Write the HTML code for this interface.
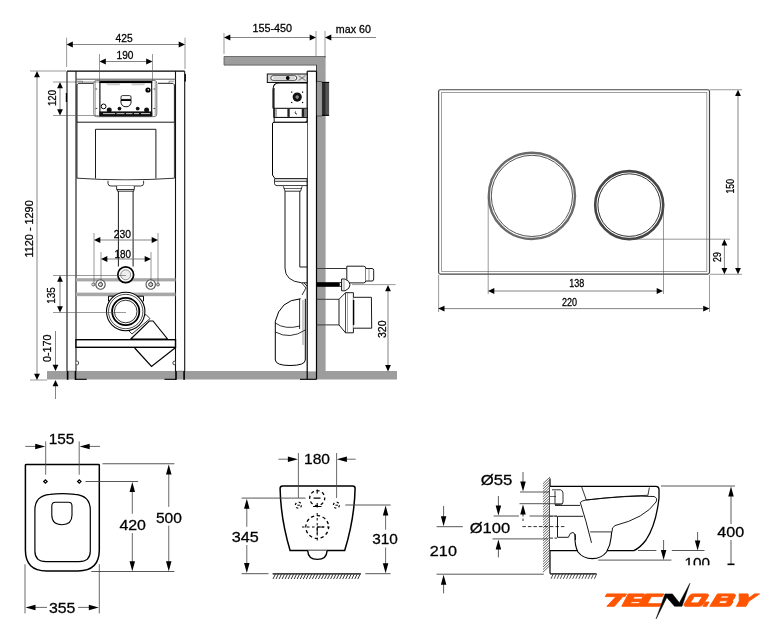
<!DOCTYPE html>
<html><head><meta charset="utf-8"><style>
html,body{margin:0;padding:0;background:#fff;width:770px;height:640px;overflow:hidden}
svg{display:block;will-change:transform}
text{font-family:"Liberation Sans",sans-serif;fill:#000;stroke:#000;stroke-width:0.28px}
</style></head><body>
<svg width="770" height="640" viewBox="0 0 770 640">
<rect x="47" y="371" width="350" height="8.5" fill="#9d9d9d"/>
<rect x="67" y="71.2" width="9" height="299.8" fill="#fff"/>
<rect x="175.5" y="71.2" width="9.2" height="299.8" fill="#fff"/>
<line x1="67" y1="71.2" x2="67" y2="371" stroke="#111" stroke-width="1.1" />
<line x1="76" y1="71.2" x2="76" y2="371" stroke="#111" stroke-width="1.1" />
<line x1="175.5" y1="71.2" x2="175.5" y2="371" stroke="#111" stroke-width="1.1" />
<line x1="184.7" y1="71.2" x2="184.7" y2="371" stroke="#111" stroke-width="1.1" />
<rect x="66.8" y="371" width="1.6" height="8.8" fill="#000"/>
<rect x="74.7" y="371" width="1.6" height="8.8" fill="#000"/>
<rect x="175.2" y="371" width="1.6" height="8.8" fill="#000"/>
<rect x="183.29999999999998" y="371" width="1.6" height="8.8" fill="#000"/>
<line x1="68" y1="371.2" x2="75" y2="371.2" stroke="#666" stroke-width="0.6" />
<line x1="176.5" y1="371.2" x2="183.5" y2="371.2" stroke="#666" stroke-width="0.6" />
<path d="M76.3,361.2 H77.5 Q78.6,361.2 78.6,363 Q78.6,364.7 77.5,364.7 H76.3" fill="#fff" stroke="#000" stroke-width="0.7"/>
<path d="M175.2,361.2 H174 Q172.9,361.2 172.9,363 Q172.9,364.7 174,364.7 H175.2" fill="#fff" stroke="#000" stroke-width="0.7"/>
<line x1="67" y1="71.1" x2="184.7" y2="71.1" stroke="#000" stroke-width="1.2" />
<line x1="76" y1="79.2" x2="175.5" y2="79.2" stroke="#555" stroke-width="1" />
<rect x="65.8" y="93" width="1.3" height="9" fill="#000"/>
<rect x="184.7" y="74" width="1.2" height="7.5" fill="#000"/>
<line x1="75" y1="379.3" x2="86.7" y2="379.3" stroke="#000" stroke-width="1.1" />
<line x1="164.5" y1="379.3" x2="176" y2="379.3" stroke="#000" stroke-width="1.1" />
<path d="M93.8,83.3 H78.5 L77,84.8 V122.2" fill="none" stroke="#000" stroke-width="0.9"/>
<path d="M158,83.3 H172.9 L174.4,84.8 V122.2" fill="none" stroke="#000" stroke-width="0.9"/>
<path d="M77,81.2 H82.5 V83.3 M174.4,81.2 H169 V83.3" fill="none" stroke="#555" stroke-width="0.6"/>
<rect x="93.8" y="80.4" width="63" height="36.3" rx="2.8" fill="#fff" stroke="#777" stroke-width="1"/>
<rect x="94.6" y="81" width="1.4" height="35" fill="#bbb"/>
<rect x="154.6" y="81" width="1.4" height="35" fill="#bbb"/>
<rect x="99.9" y="81.9" width="51.8" height="33.8" fill="#fff" stroke="#000" stroke-width="1.1"/>
<rect x="99.4" y="81.1" width="52.8" height="2" fill="#000"/>
<rect x="99.4" y="111.4" width="52.8" height="4.9" fill="#111"/>
<path d="M103,113.6 H115 M116.5,113.6 H124.5 M126,113.6 H132.5 M134,113.6 H139 M141,113.6 H150" stroke="#ddd" stroke-width="0.9"/>
<path d="M105.5,83.1 L107.5,85.3 H119.5 L120.5,83.1 Z M131,83.1 L132,85.3 H144 L145.5,83.1 Z" fill="#ccc"/>
<path d="M97.2,89 H95.5 M97.2,108.5 H95.5 M155.2,89 H153.5 M155.2,108.5 H153.5" stroke="#000" stroke-width="0.7"/>
<circle cx="148" cy="90" r="2.6" fill="#000"/><circle cx="148.3" cy="89.8" r="0.8" fill="#fff"/>
<path d="M121,99.4 V97 Q121,95.6 122.5,95.6 H129.6 Q131,95.6 131,97 V99.4 Z" fill="#fff" stroke="#000" stroke-width="0.8"/>
<rect x="120.6" y="99.4" width="10.8" height="1.6" fill="#000"/>
<path d="M120.8,101 Q121,106.8 126,106.8 Q131,106.8 131.2,101" fill="#fff" stroke="#000" stroke-width="0.9"/>
<circle cx="103.6" cy="106.4" r="2.4" fill="#fff" stroke="#000" stroke-width="1"/>
<circle cx="109.2" cy="110" r="2.5" fill="#111"/><circle cx="146.6" cy="110" r="2.5" fill="#111"/>
<circle cx="119.5" cy="108.6" r="1.9" fill="#111"/><circle cx="137.7" cy="108.6" r="1.9" fill="#111"/>
<line x1="77" y1="122.2" x2="174.4" y2="122.2" stroke="#000" stroke-width="0.9" />
<path d="M77,122.2 V178.2 Q126,181.5 174.4,178.2 V122.2" fill="none" stroke="#000" stroke-width="0.8"/>
<path d="M95.5,178.5 V129.3 H155.9 V178.5" fill="none" stroke="#000" stroke-width="0.9"/>
<path d="M108,180.8 V183.5 Q108,186 111,186 H140.6 Q143.6,186 143.6,183.5 V180.8" fill="#fff" stroke="#000" stroke-width="0.8"/>
<path d="M116.6,186 V189.5 H134.3 V186 M117.4,189.5 V191.2 H133.8 V189.5" fill="#fff" stroke="#000" stroke-width="0.8"/>
<path d="M118.4,191.2 V266.5 M133.1,191.2 V266.5" stroke="#000" stroke-width="0.9"/>
<rect x="76" y="278.2" width="99.5" height="3.2" fill="#a8a8a8"/>
<rect x="76" y="292.6" width="99.5" height="3.6" fill="#a8a8a8"/>
<circle cx="125.7" cy="274.8" r="7.9" fill="#fff" stroke="#000" stroke-width="1.7"/>
<circle cx="125.7" cy="274.8" r="5" fill="#eee" stroke="#777" stroke-width="0.8"/>
<circle cx="93.3" cy="284.5" r="1.5" fill="#fff" stroke="#333" stroke-width="0.7"/>
<circle cx="100.5" cy="284.5" r="4.7" fill="#fff" stroke="#555" stroke-width="1.1"/>
<circle cx="100.5" cy="284.5" r="2" fill="none" stroke="#000" stroke-width="0.8"/>
<circle cx="158" cy="284.5" r="1.5" fill="#fff" stroke="#333" stroke-width="0.7"/>
<circle cx="150.7" cy="284.5" r="4.7" fill="#fff" stroke="#555" stroke-width="1.1"/>
<circle cx="150.7" cy="284.5" r="2" fill="none" stroke="#000" stroke-width="0.8"/>
<path d="M128,330 L146,314.5 L150,318.6 L132,334 Z" fill="#fff" stroke="#000" stroke-width="0.8"/>
<path d="M130.8,339 L149.3,321 H153 L167.5,339 Z" fill="#fff" stroke="#000" stroke-width="1.1"/>
<path d="M108.5,301.3 V296.2 H143.5 V301.3" fill="#fff" stroke="#000" stroke-width="1"/>
<circle cx="125.7" cy="311.5" r="19.2" fill="#fff" stroke="#000" stroke-width="1.1"/>
<circle cx="125.7" cy="311.5" r="17.2" fill="none" stroke="#000" stroke-width="0.7"/>
<circle cx="125.7" cy="311.5" r="13.6" fill="none" stroke="#000" stroke-width="1.8"/>
<circle cx="125.7" cy="311.5" r="11.3" fill="#fff" stroke="#000" stroke-width="0.8"/>
<rect x="76" y="339.7" width="99.5" height="7.6" fill="#fff" stroke="#000" stroke-width="1.4"/>
<path d="M134.7,348 L151.5,366.4 L175,348" fill="#fff" stroke="#000" stroke-width="1.2"/>
<line x1="66.6" y1="37.7" x2="66.6" y2="67" stroke="#555" stroke-width="0.6" />
<line x1="185" y1="37.7" x2="185" y2="69" stroke="#555" stroke-width="0.6" />
<line x1="72" y1="44.5" x2="179" y2="44.5" stroke="#666" stroke-width="0.8" />
<polygon points="66.50,44.50 72.80,41.60 72.80,47.40" fill="#000"/>
<polygon points="185.00,44.50 178.70,41.60 178.70,47.40" fill="#000"/>
<text x="124.2" y="41.75" font-size="11.3" text-anchor="middle" textLength="17.2" lengthAdjust="spacingAndGlyphs" >425</text>
<line x1="99.5" y1="54" x2="99.5" y2="81" stroke="#555" stroke-width="0.6" />
<line x1="152.5" y1="54" x2="152.5" y2="81" stroke="#555" stroke-width="0.6" />
<line x1="105" y1="61.5" x2="147" y2="61.5" stroke="#666" stroke-width="0.8" />
<polygon points="99.50,61.50 105.80,58.60 105.80,64.40" fill="#000"/>
<polygon points="152.50,61.50 146.20,58.60 146.20,64.40" fill="#000"/>
<text x="125" y="59.25" font-size="11.3" text-anchor="middle" textLength="16.9" lengthAdjust="spacingAndGlyphs" >190</text>
<line x1="30" y1="71" x2="66" y2="71" stroke="#555" stroke-width="0.6" />
<line x1="30" y1="380" x2="47" y2="380" stroke="#555" stroke-width="0.6" />
<line x1="37" y1="77" x2="37" y2="374" stroke="#666" stroke-width="0.8" />
<polygon points="37.00,71.00 34.10,77.30 39.90,77.30" fill="#000"/>
<polygon points="37.00,380.00 34.10,373.70 39.90,373.70" fill="#000"/>
<text x="33.4" y="228.9" font-size="11.3" text-anchor="middle" transform="rotate(-90 33.4 228.9)" textLength="57.2" lengthAdjust="spacingAndGlyphs" >1120 - 1290</text>
<line x1="53" y1="82" x2="99" y2="82" stroke="#555" stroke-width="0.6" />
<line x1="53" y1="115.5" x2="99" y2="115.5" stroke="#555" stroke-width="0.6" />
<line x1="60" y1="88" x2="60" y2="110" stroke="#666" stroke-width="0.8" />
<polygon points="60.00,82.00 57.10,88.30 62.90,88.30" fill="#000"/>
<polygon points="60.00,115.50 57.10,109.20 62.90,109.20" fill="#000"/>
<text x="55.75" y="98" font-size="11.3" text-anchor="middle" transform="rotate(-90 55.75 98)" textLength="16.1" lengthAdjust="spacingAndGlyphs" >120</text>
<line x1="94" y1="233" x2="94" y2="286" stroke="#555" stroke-width="0.6" />
<line x1="158" y1="233" x2="158" y2="286" stroke="#555" stroke-width="0.6" />
<line x1="100" y1="240" x2="152" y2="240" stroke="#666" stroke-width="0.8" />
<polygon points="94.00,240.00 100.30,237.10 100.30,242.90" fill="#000"/>
<polygon points="158.00,240.00 151.70,237.10 151.70,242.90" fill="#000"/>
<text x="122.3" y="237.8" font-size="11.3" text-anchor="middle" textLength="17.2" lengthAdjust="spacingAndGlyphs" >230</text>
<line x1="101" y1="252" x2="101" y2="286" stroke="#555" stroke-width="0.6" />
<line x1="151" y1="252" x2="151" y2="286" stroke="#555" stroke-width="0.6" />
<line x1="107" y1="259" x2="145" y2="259" stroke="#666" stroke-width="0.8" />
<polygon points="101.00,259.00 107.30,256.10 107.30,261.90" fill="#000"/>
<polygon points="151.00,259.00 144.70,256.10 144.70,261.90" fill="#000"/>
<text x="122.65" y="257.5" font-size="11.3" text-anchor="middle" textLength="16.5" lengthAdjust="spacingAndGlyphs" >180</text>
<line x1="53" y1="275.5" x2="126" y2="275.5" stroke="#555" stroke-width="0.6" />
<line x1="53" y1="312.5" x2="126" y2="312.5" stroke="#555" stroke-width="0.6" />
<line x1="60" y1="281" x2="60" y2="307" stroke="#666" stroke-width="0.8" />
<polygon points="60.00,275.50 57.10,281.80 62.90,281.80" fill="#000"/>
<polygon points="60.00,312.50 57.10,306.20 62.90,306.20" fill="#000"/>
<text x="55" y="295.5" font-size="11.3" text-anchor="middle" transform="rotate(-90 55 295.5)" textLength="16.5" lengthAdjust="spacingAndGlyphs" >135</text>
<line x1="55.5" y1="331" x2="55.5" y2="366" stroke="#666" stroke-width="0.8" />
<polygon points="55.50,371.00 52.60,364.70 58.40,364.70" fill="#000"/>
<line x1="55.5" y1="385" x2="55.5" y2="399" stroke="#666" stroke-width="0.8" />
<polygon points="55.50,380.00 52.60,386.30 58.40,386.30" fill="#000"/>
<text x="51" y="348.3" font-size="11.3" text-anchor="middle" transform="rotate(-90 51 348.3)" textLength="27.4" lengthAdjust="spacingAndGlyphs" >0-170</text>
<rect x="224" y="56.5" width="101.6" height="8.6" fill="#9d9d9d"/>
<path d="M325.6,56.5 H224 V65.1 H316.5" fill="none" stroke="#555" stroke-width="0.8"/>
<rect x="316.6" y="64.5" width="9" height="307" fill="#9d9d9d"/>
<line x1="316.5" y1="64.8" x2="316.5" y2="371.4" stroke="#333" stroke-width="0.9" />
<rect x="307.2" y="71.2" width="9.4" height="300.2" fill="#fff"/>
<line x1="307.2" y1="71.2" x2="307.2" y2="379.3" stroke="#000" stroke-width="1.2" />
<line x1="316.5" y1="71.2" x2="316.5" y2="379.3" stroke="#000" stroke-width="1.2" />
<line x1="307.2" y1="71.2" x2="316.5" y2="71.2" stroke="#000" stroke-width="1.2" />
<line x1="300" y1="379.3" x2="316.5" y2="379.3" stroke="#000" stroke-width="1.1" />
<line x1="316.6" y1="268.5" x2="325.6" y2="268.5" stroke="#333" stroke-width="0.9" />
<line x1="316.6" y1="299.3" x2="325.6" y2="299.3" stroke="#333" stroke-width="0.9" />
<line x1="316.6" y1="324.9" x2="325.6" y2="324.9" stroke="#333" stroke-width="0.9" />
<rect x="267.3" y="74" width="39.9" height="8.5" fill="#ddd" stroke="#111" stroke-width="1"/>
<rect x="270.8" y="75.7" width="25.9" height="4.6" rx="2.3" fill="#fff" stroke="#222" stroke-width="0.8"/>
<path d="M273,78 H286 M290,78 H295" stroke="#999" stroke-width="0.8"/>
<circle cx="287.8" cy="78" r="1.9" fill="#000"/>
<path d="M298.5,75.5 L305.5,80.5 M298.5,80.5 L305.5,75.5" stroke="#444" stroke-width="0.7"/>
<path d="M307.2,83 H279 Q273,83 273,89.5 V108.5" fill="none" stroke="#000" stroke-width="1.1"/>
<circle cx="297.2" cy="97.1" r="4.6" fill="#111"/><circle cx="297.2" cy="97.1" r="1.8" fill="#888"/>
<rect x="291.09999999999997" y="91.5" width="1.2" height="1.2" fill="#000"/>
<rect x="291.09999999999997" y="101.9" width="1.2" height="1.2" fill="#000"/>
<rect x="302.0" y="91.5" width="1.2" height="1.2" fill="#000"/>
<rect x="302.0" y="101.9" width="1.2" height="1.2" fill="#000"/>
<rect x="274.2" y="108.3" width="33" height="9.1" fill="#fff" stroke="#000" stroke-width="1"/>
<rect x="274.7" y="108.8" width="2.3" height="8.1" fill="#aaa"/>
<rect x="287.4" y="108.8" width="2.3" height="8.1" fill="#222"/><rect x="301.7" y="108.8" width="2.9" height="8.1" fill="#222"/><rect x="304.6" y="108.8" width="2.4" height="8.1" fill="#777"/>
<path d="M295.5,111.5 Q294.5,113 296,114 H297" fill="none" stroke="#000" stroke-width="0.8"/>
<path d="M274.2,117.4 V122.3 H307.2 M305.5,122.3 L307.2,120.5" fill="none" stroke="#000" stroke-width="0.9"/>
<line x1="273.9" y1="88" x2="273.9" y2="117.4" stroke="#000" stroke-width="1.2" />
<rect x="316.8" y="82.1" width="5.1" height="33.5" fill="#999"/>
<rect x="321.9" y="82.1" width="7.2" height="33.5" fill="#555"/>
<rect x="322.2" y="82.1" width="3.2" height="33.5" fill="#2a2a2a"/>
<line x1="321.9" y1="82.4" x2="329.1" y2="82.4" stroke="#000" stroke-width="1.1" />
<line x1="321.9" y1="115.3" x2="329.1" y2="115.3" stroke="#000" stroke-width="1.1" />
<line x1="316.8" y1="81.5" x2="321.9" y2="81.5" stroke="#444" stroke-width="0.8" />
<line x1="316.8" y1="116" x2="321.9" y2="116" stroke="#444" stroke-width="0.8" />
<path d="M307.2,122.3 H274 Q272.5,122.3 272.5,124 V175 L275,178.7 H307.2" fill="#fff" stroke="#000" stroke-width="1"/>
<path d="M274.5,178.7 V183.5 Q274.5,185.6 277,185.6 H307.2 M275,181.3 H307.2" fill="none" stroke="#000" stroke-width="0.8"/>
<path d="M283.4,186.3 L285,191.2 H300.6 L302.1,186.3" fill="#fff" stroke="#000" stroke-width="0.8"/>
<line x1="283.8" y1="188.5" x2="301.7" y2="188.5" stroke="#000" stroke-width="0.6" />
<path d="M285,191.2 V268 Q285,281 301.5,282.8 H307.2" fill="none" stroke="#000" stroke-width="0.9"/>
<path d="M299.8,191.2 V267 H307.2" fill="none" stroke="#000" stroke-width="0.9"/>
<path d="M301.5,282.8 L306,288 L302,295 M304,283 L307,286" fill="none" stroke="#000" stroke-width="0.8"/>
<path d="M300.6,298.8 Q280,300 275.3,321.3 V360 Q276,365.5 290,365.5 Q305,365.5 305.3,360 V298.8" fill="#fff" stroke="#000" stroke-width="1"/>
<path d="M275.3,323 Q285,330 300,326 M275.3,332 Q290,340 305.3,330" fill="none" stroke="#000" stroke-width="0.8"/>
<line x1="299.6" y1="298.8" x2="299.6" y2="329" stroke="#000" stroke-width="0.8" />
<line x1="303" y1="300" x2="303" y2="345" stroke="#555" stroke-width="0.6" />
<line x1="325.6" y1="268.5" x2="346.8" y2="268.5" stroke="#000" stroke-width="0.8" />
<path d="M346.8,266.2 H363.5 Q365.8,266.2 365.8,268.5 V280.6 Q365.8,282.9 363.5,282.9 H346.8 Z" fill="#fff" stroke="#000" stroke-width="0.9"/>
<path d="M365.8,268.5 H372 Q373.7,268.5 373.7,270.5 V279 Q373.7,281 372,281 H365.8" fill="#fff" stroke="#000" stroke-width="0.9"/>
<line x1="369" y1="268.5" x2="369" y2="281" stroke="#555" stroke-width="0.6" />
<rect x="316.6" y="282.2" width="23" height="4.6" fill="#000"/>
<path d="M339.6,282.5 H341.6 V286.5 H339.6 Z" fill="#fff" stroke="#000" stroke-width="0.7"/>
<path d="M341.6,279 H345 Q350,281 350,284.8 Q350,288.8 345,290.8 H341.6 Z" fill="#fff" stroke="#000" stroke-width="0.9"/>
<line x1="344" y1="279.5" x2="344" y2="290.3" stroke="#555" stroke-width="0.6" />
<line x1="325.6" y1="299.3" x2="339" y2="299.3" stroke="#000" stroke-width="0.8" />
<line x1="325.6" y1="324.9" x2="339" y2="324.9" stroke="#000" stroke-width="0.8" />
<path d="M339,299.3 L345.5,292.7 H353.4 V332.8 H345.5 L339,324.9 Z" fill="#fff" stroke="#000" stroke-width="0.9"/>
<line x1="345.5" y1="292.7" x2="345.5" y2="332.8" stroke="#000" stroke-width="0.7" />
<line x1="347.5" y1="293" x2="347.5" y2="332.5" stroke="#666" stroke-width="0.6" />
<path d="M353.4,297.3 H371.4 L371.7,328.2 H353.4" fill="#fff" stroke="#000" stroke-width="0.9"/>
<line x1="353.6" y1="300" x2="353.6" y2="325" stroke="#000" stroke-width="1.4" />
<line x1="224" y1="33" x2="224" y2="54" stroke="#555" stroke-width="0.6" />
<line x1="316" y1="31" x2="316" y2="56" stroke="#555" stroke-width="0.6" />
<line x1="325" y1="31" x2="325" y2="58" stroke="#555" stroke-width="0.6" />
<line x1="230" y1="37.5" x2="310" y2="37.5" stroke="#666" stroke-width="0.8" />
<polygon points="224.00,37.50 230.30,34.60 230.30,40.40" fill="#000"/>
<polygon points="316.00,37.50 309.70,34.60 309.70,40.40" fill="#000"/>
<text x="272.3" y="32" font-size="11.3" text-anchor="middle" textLength="39.6" lengthAdjust="spacingAndGlyphs" >155-450</text>
<line x1="330" y1="37.5" x2="376" y2="37.5" stroke="#666" stroke-width="0.8" />
<polygon points="325.00,37.50 331.30,34.60 331.30,40.40" fill="#000"/>
<text x="353.4" y="32.6" font-size="11.3" text-anchor="middle" textLength="35.1" lengthAdjust="spacingAndGlyphs" >max 60</text>
<line x1="352" y1="284.6" x2="395.6" y2="284.6" stroke="#555" stroke-width="0.6" />
<line x1="388" y1="291" x2="388" y2="365" stroke="#666" stroke-width="0.8" />
<polygon points="388.00,285.00 385.10,291.30 390.90,291.30" fill="#000"/>
<polygon points="388.00,371.40 385.10,365.10 390.90,365.10" fill="#000"/>
<text x="386" y="329.2" font-size="11.3" text-anchor="middle" transform="rotate(-90 386 329.2)" textLength="17.6" lengthAdjust="spacingAndGlyphs" >320</text>
<rect x="438.6" y="89.75" width="270.9" height="184.35" rx="1.8" fill="#fff" stroke="#444" stroke-width="1.2"/>
<rect x="441.6" y="92.45" width="265.2" height="178.95" fill="none" stroke="#888" stroke-width="0.8"/>
<circle cx="531.9" cy="195.9" r="43.1" fill="#fff" stroke="#6a6a6a" stroke-width="2.4"/>
<circle cx="531.9" cy="195.9" r="40.6" fill="none" stroke="#555" stroke-width="1"/>
<circle cx="629.2" cy="205.1" r="34" fill="#fff" stroke="#444" stroke-width="2.6"/>
<circle cx="629.2" cy="205.1" r="31.3" fill="none" stroke="#333" stroke-width="1"/>
<line x1="710" y1="89.75" x2="742" y2="89.75" stroke="#555" stroke-width="0.6" />
<line x1="710" y1="274.3" x2="742" y2="274.3" stroke="#555" stroke-width="0.6" />
<line x1="738" y1="95" x2="738" y2="268" stroke="#666" stroke-width="0.8" />
<polygon points="738.00,89.75 735.10,96.05 740.90,96.05" fill="#000"/>
<polygon points="738.00,274.20 735.10,267.90 740.90,267.90" fill="#000"/>
<text x="734.1" y="186.2" font-size="10.4" text-anchor="middle" transform="rotate(-90 734.1 186.2)" textLength="14.6" lengthAdjust="spacingAndGlyphs" >150</text>
<line x1="629" y1="239.2" x2="730" y2="239.2" stroke="#555" stroke-width="0.6" />
<line x1="724.4" y1="245" x2="724.4" y2="268" stroke="#666" stroke-width="0.8" />
<polygon points="724.40,239.20 721.50,245.50 727.30,245.50" fill="#000"/>
<polygon points="724.40,274.20 721.50,267.90 727.30,267.90" fill="#000"/>
<text x="721.25" y="257.1" font-size="10.4" text-anchor="middle" transform="rotate(-90 721.25 257.1)" textLength="9.7" lengthAdjust="spacingAndGlyphs" >29</text>
<line x1="488.2" y1="197" x2="488.2" y2="294" stroke="#555" stroke-width="0.6" />
<line x1="663.5" y1="206" x2="663.5" y2="294" stroke="#555" stroke-width="0.6" />
<line x1="494" y1="291" x2="657" y2="291" stroke="#666" stroke-width="0.8" />
<polygon points="488.00,291.00 494.30,288.10 494.30,293.90" fill="#000"/>
<polygon points="663.00,291.00 656.70,288.10 656.70,293.90" fill="#000"/>
<text x="576.7" y="287" font-size="10.4" text-anchor="middle" textLength="15" lengthAdjust="spacingAndGlyphs" >138</text>
<line x1="438.6" y1="275" x2="438.6" y2="312" stroke="#555" stroke-width="0.6" />
<line x1="709.5" y1="275" x2="709.5" y2="312" stroke="#555" stroke-width="0.6" />
<line x1="444" y1="308.6" x2="703" y2="308.6" stroke="#666" stroke-width="0.8" />
<polygon points="438.20,308.60 444.50,305.70 444.50,311.50" fill="#000"/>
<polygon points="709.50,308.60 703.20,305.70 703.20,311.50" fill="#000"/>
<text x="569.5" y="305.75" font-size="10.4" text-anchor="middle" textLength="15" lengthAdjust="spacingAndGlyphs" >220</text>
<path d="M26.2,464.5 H98.6 Q99.3,464.5 99.3,465.2 V550 Q99.3,570.9 78,570.9 H46.5 Q25.4,570.9 25.4,550 V465.2 Q25.4,464.5 26.2,464.5 Z" fill="#fff" stroke="#000" stroke-width="1.5"/>
<path d="M50,494.3 Q62,492.8 75,494.3 Q90.3,495.5 90.3,510 V551 Q90.3,561.6 79,561.6 H46 Q34.9,561.6 34.9,551 V510 Q34.9,495.5 50,494.3 Z" fill="none" stroke="#000" stroke-width="1.2"/>
<path d="M55.5,502.2 H68.5 Q72,502.2 72,506 V515 Q72,524.7 62,524.7 Q51.8,524.7 51.8,515 V506 Q51.8,502.2 55.5,502.2 Z" fill="none" stroke="#000" stroke-width="1.1"/>
<polygon points="45.4,478.9 48.0,481.5 45.4,484.1 42.8,481.5" fill="#000"/>
<polygon points="45.4,480.7 46.199999999999996,481.5 45.4,482.3 44.6,481.5" fill="#fff"/>
<polygon points="79.3,478.9 81.89999999999999,481.5 79.3,484.1 76.7,481.5" fill="#000"/>
<polygon points="79.3,480.7 80.1,481.5 79.3,482.3 78.5,481.5" fill="#fff"/>
<line x1="45.7" y1="441.4" x2="45.7" y2="474.7" stroke="#444" stroke-width="0.8" />
<line x1="79.2" y1="441.4" x2="79.2" y2="474.7" stroke="#444" stroke-width="0.8" />
<line x1="25.3" y1="446.4" x2="40" y2="446.4" stroke="#444" stroke-width="0.8" />
<polygon points="45.20,446.40 35.20,443.65 35.20,449.15" fill="#000"/>
<line x1="85" y1="446.4" x2="100" y2="446.4" stroke="#444" stroke-width="0.8" />
<polygon points="79.70,446.40 89.70,443.65 89.70,449.15" fill="#000"/>
<text x="61.5" y="443.7" font-size="15.5" text-anchor="middle" textLength="25.7" lengthAdjust="spacingAndGlyphs" >155</text>
<line x1="102.5" y1="463.75" x2="174.4" y2="463.75" stroke="#444" stroke-width="0.9" />
<line x1="85.5" y1="481.5" x2="138.1" y2="481.5" stroke="#444" stroke-width="0.9" />
<line x1="91.4" y1="571.5" x2="174.4" y2="571.5" stroke="#444" stroke-width="0.9" />
<line x1="168.75" y1="470" x2="168.75" y2="506.9" stroke="#444" stroke-width="0.8" />
<line x1="168.75" y1="525.6" x2="168.75" y2="565" stroke="#444" stroke-width="0.8" />
<polygon points="168.75,464.60 166.00,474.60 171.50,474.60" fill="#000"/>
<polygon points="168.75,571.30 166.00,561.30 171.50,561.30" fill="#000"/>
<text x="168.9" y="522.5" font-size="15.5" text-anchor="middle" textLength="26" lengthAdjust="spacingAndGlyphs" >500</text>
<line x1="132.3" y1="487" x2="132.3" y2="513.75" stroke="#444" stroke-width="0.8" />
<line x1="132.3" y1="533" x2="132.3" y2="565" stroke="#444" stroke-width="0.8" />
<polygon points="132.30,481.90 129.55,491.90 135.05,491.90" fill="#000"/>
<polygon points="132.30,571.30 129.55,561.30 135.05,561.30" fill="#000"/>
<text x="132.7" y="529.75" font-size="15.5" text-anchor="middle" textLength="26.6" lengthAdjust="spacingAndGlyphs" >420</text>
<line x1="25" y1="564.2" x2="25" y2="613.4" stroke="#444" stroke-width="0.8" />
<line x1="99.3" y1="564.2" x2="99.3" y2="613.4" stroke="#444" stroke-width="0.8" />
<line x1="30" y1="607.4" x2="47" y2="607.4" stroke="#444" stroke-width="0.8" />
<line x1="78" y1="607.4" x2="95" y2="607.4" stroke="#444" stroke-width="0.8" />
<polygon points="25.50,607.40 35.50,604.65 35.50,610.15" fill="#000"/>
<polygon points="98.80,607.40 88.80,604.65 88.80,610.15" fill="#000"/>
<text x="62.15" y="612.7" font-size="15.5" text-anchor="middle" textLength="26.5" lengthAdjust="spacingAndGlyphs" >355</text>
<path d="M282.6,486.1 H352.6 Q355.1,486.1 355.1,488.6 Q354.4,519 344.7,550.5 H290.1 Q280.7,519 280.1,488.6 Q280.1,486.1 282.6,486.1 Z" fill="#fff" stroke="#000" stroke-width="1.5"/>
<path d="M307.7,550.5 Q308,559.4 317.4,559.4 Q326.8,559.4 327.1,550.5" fill="#fff" stroke="#000" stroke-width="1.4"/>
<line x1="298.4" y1="453" x2="298.4" y2="498" stroke="#444" stroke-width="0.8" />
<line x1="336.6" y1="453" x2="336.6" y2="498" stroke="#444" stroke-width="0.8" />
<line x1="278.4" y1="459.2" x2="290" y2="459.2" stroke="#444" stroke-width="0.8" />
<polygon points="297.90,459.20 287.90,456.45 287.90,461.95" fill="#000"/>
<line x1="345" y1="459.2" x2="355.7" y2="459.2" stroke="#444" stroke-width="0.8" />
<polygon points="336.90,459.20 346.90,456.45 346.90,461.95" fill="#000"/>
<text x="317" y="464.4" font-size="15.5" text-anchor="middle" textLength="26" lengthAdjust="spacingAndGlyphs" >180</text>
<circle cx="317.2" cy="498.1" r="7.5" fill="none" stroke="#000" stroke-width="1.3" stroke-dasharray="3.2,2.7" stroke-dashoffset="1"/>
<circle cx="317.2" cy="527" r="11.4" fill="none" stroke="#000" stroke-width="1.3" stroke-dasharray="3.3,2.7" stroke-dashoffset="1"/>
<path d="M317.2,489.5 V493.5 M317.2,503 V507.5 M313.5,498.1 H320.5 M313,506.5 H321.5" stroke="#000" stroke-width="1.1"/>
<path d="M317.2,513 V542 M302,527 H332" stroke="#000" stroke-width="1" stroke-dasharray="2.5,2.5"/>
<path d="M317.2,527 V534 M317.2,527 H324" stroke="#000" stroke-width="1"/>
<circle cx="298.4" cy="505.2" r="3" fill="none" stroke="#000" stroke-width="1.2" stroke-dasharray="2.2,2.5"/>
<path d="M297.4,505.2 H299.9" stroke="#000" stroke-width="1"/>
<circle cx="336.4" cy="505.2" r="3" fill="none" stroke="#000" stroke-width="1.2" stroke-dasharray="2.2,2.5"/>
<path d="M335.4,505.2 H337.9" stroke="#000" stroke-width="1"/>
<line x1="241.6" y1="498.1" x2="305.5" y2="498.1" stroke="#444" stroke-width="0.9" />
<line x1="345.3" y1="505" x2="390.6" y2="505" stroke="#444" stroke-width="0.9" />
<line x1="246.8" y1="504" x2="246.8" y2="526.8" stroke="#444" stroke-width="0.8" />
<line x1="246.8" y1="545" x2="246.8" y2="567" stroke="#444" stroke-width="0.8" />
<polygon points="246.80,498.70 244.05,508.70 249.55,508.70" fill="#000"/>
<polygon points="246.80,572.90 244.05,562.90 249.55,562.90" fill="#000"/>
<text x="245.2" y="542" font-size="15.5" text-anchor="middle" textLength="27" lengthAdjust="spacingAndGlyphs" >345</text>
<line x1="385.6" y1="511" x2="385.6" y2="529.8" stroke="#444" stroke-width="0.8" />
<line x1="385.6" y1="547.5" x2="385.6" y2="567" stroke="#444" stroke-width="0.8" />
<polygon points="385.60,505.60 382.85,515.60 388.35,515.60" fill="#000"/>
<polygon points="385.60,573.30 382.85,563.30 388.35,563.30" fill="#000"/>
<text x="385" y="544.2" font-size="15.5" text-anchor="middle" textLength="25.7" lengthAdjust="spacingAndGlyphs" >310</text>
<line x1="241.6" y1="573.7" x2="268.5" y2="573.7" stroke="#444" stroke-width="0.9" />
<line x1="272.6" y1="573.9" x2="360.9" y2="573.9" stroke="#000" stroke-width="1.3" />
<line x1="365.3" y1="573.7" x2="390.6" y2="573.7" stroke="#444" stroke-width="0.9" />
<path d="M273.0,579 L275.3,574.3 M276.0,579 L278.3,574.3 M279.1,579 L281.4,574.3 M282.1,579 L284.4,574.3 M285.1,579 L287.4,574.3 M288.1,579 L290.4,574.3 M291.2,579 L293.5,574.3 M294.2,579 L296.5,574.3 M297.2,579 L299.5,574.3 M300.3,579 L302.6,574.3 M303.3,579 L305.6,574.3 M306.3,579 L308.6,574.3 M309.4,579 L311.7,574.3 M312.4,579 L314.7,574.3 M315.4,579 L317.7,574.3 M318.4,579 L320.8,574.3 M321.5,579 L323.8,574.3 M324.5,579 L326.8,574.3 M327.5,579 L329.8,574.3 M330.6,579 L332.9,574.3 M333.6,579 L335.9,574.3 M336.6,579 L338.9,574.3 M339.7,579 L342.0,574.3 M342.7,579 L345.0,574.3 M345.7,579 L348.0,574.3 M348.8,579 L351.1,574.3 M351.8,579 L354.1,574.3 M354.8,579 L357.1,574.3 M357.8,579 L360.1,574.3" stroke="#000" stroke-width="0.8"/>
<line x1="550" y1="478.6" x2="550" y2="573.8" stroke="#000" stroke-width="1.2" />
<path d="M542.7,484.0 L550,477.0 M542.7,486.6 L550,479.6 M542.7,489.2 L550,482.2 M542.7,491.8 L550,484.8 M542.7,494.4 L550,487.4 M542.7,497.0 L550,490.0 M542.7,499.6 L550,492.6 M542.7,502.2 L550,495.2 M542.7,504.8 L550,497.8 M542.7,507.4 L550,500.4 M542.7,510.0 L550,503.0 M542.7,512.6 L550,505.6 M542.7,515.2 L550,508.2 M542.7,517.8 L550,510.8 M542.7,520.4 L550,513.4 M542.7,523.0 L550,516.0 M542.7,525.6 L550,518.6 M542.7,528.2 L550,521.2 M542.7,530.8 L550,523.8 M542.7,533.4 L550,526.4 M542.7,536.0 L550,529.0 M542.7,538.6 L550,531.6 M542.7,541.2 L550,534.2 M542.7,543.8 L550,536.8 M542.7,546.4 L550,539.4 M542.7,549.0 L550,542.0 M542.7,551.6 L550,544.6 M542.7,554.2 L550,547.2 M542.7,556.8 L550,549.8 M542.7,559.4 L550,552.4 M542.7,562.0 L550,555.0 M542.7,564.6 L550,557.6 M542.7,567.2 L550,560.2 M542.7,569.8 L550,562.8 M542.7,572.4 L550,565.4" stroke="#222" stroke-width="0.7"/>
<rect x="535" y="470" width="7.7" height="110" fill="#fff"/>
<rect x="535" y="573.8" width="20" height="10" fill="#fff"/>
<line x1="550" y1="573.8" x2="596.6" y2="573.8" stroke="#000" stroke-width="1.2" />
<path d="M551.0,578.8 L553.2,574 M554.1,578.8 L556.3,574 M557.2,578.8 L559.4,574 M560.3,578.8 L562.5,574 M563.4,578.8 L565.6,574 M566.5,578.8 L568.7,574 M569.6,578.8 L571.8,574 M572.7,578.8 L574.9,574 M575.8,578.8 L578.0,574 M578.9,578.8 L581.1,574 M582.0,578.8 L584.2,574 M585.1,578.8 L587.3,574 M588.2,578.8 L590.4,574 M591.3,578.8 L593.5,574 M594.4,578.8 L596.6,574" stroke="#222" stroke-width="0.8"/>
<path d="M550,486.3 H656 Q659,486.3 659,489.5 V498 Q656,525 646,540 Q640,548 633.8,550.6 H550" fill="#fff" stroke="#000" stroke-width="1.3"/>
<path d="M575,534 Q574.5,546 578,552 Q583,558.6 592.3,558.6 Q601.5,558.6 606.5,552 Q610.5,545 611,538 L611.7,531.9" fill="#fff" stroke="#000" stroke-width="1.1"/>
<path d="M584,550.6 H600" stroke="#fff" stroke-width="0"/>
<path d="M581.6,486.7 L586.3,500 Q620,496 647.9,495.3 L649.4,487.5" fill="none" stroke="#000" stroke-width="0.8"/>
<path d="M580.3,502.5 Q582,500.5 586,500 Q630,495 654,496.5 Q658,498 656,502 Q645,518 615,525.6 Q611.5,527 612,531.9" fill="none" stroke="#000" stroke-width="0.9"/>
<path d="M580.3,502.5 Q586,520 591.5,542.8" fill="none" stroke="#000" stroke-width="0.9"/>
<line x1="590.2" y1="531.9" x2="611.5" y2="531.9" stroke="#000" stroke-width="0.8" />
<path d="M552,489.8 H560.5 Q563,490.5 563,493 V502 Q563,504.6 560.5,504.6 H555 M555,491 V504.6" fill="none" stroke="#000" stroke-width="0.8"/>
<line x1="550" y1="496.5" x2="556" y2="496.5" stroke="#000" stroke-width="0.6" />
<line x1="555" y1="505.4" x2="580" y2="505.4" stroke="#000" stroke-width="0.9" />
<path d="M583.2,516.3 H557.5 V537.3 H568.4 Q570,532 573,532.5 Q576,533.5 575.4,540" fill="none" stroke="#000" stroke-width="0.9"/>
<path d="M550,516.3 H557 M550,538.1 H557" stroke="#000" stroke-width="0.8" stroke-dasharray="3,1.5"/>
<line x1="523" y1="472" x2="523" y2="485" stroke="#333" stroke-width="0.8" />
<polygon points="523.00,491.60 520.25,481.60 525.75,481.60" fill="#000"/>
<line x1="520" y1="492" x2="550" y2="492" stroke="#444" stroke-width="0.9" />
<line x1="519.5" y1="503.7" x2="562" y2="503.7" stroke="#444" stroke-width="0.9" />
<polygon points="523.00,504.40 520.25,514.40 525.75,514.40" fill="#000"/>
<line x1="523" y1="514" x2="523" y2="522" stroke="#000" stroke-width="0.8" stroke-dasharray="2.5,2"/>
<text x="496.6" y="484.9" font-size="15.5" text-anchor="middle" textLength="31.7" lengthAdjust="spacingAndGlyphs" >Ø55</text>
<line x1="493.7" y1="516" x2="518.9" y2="516" stroke="#444" stroke-width="0.9" />
<line x1="529.5" y1="516" x2="557" y2="516" stroke="#444" stroke-width="0.9" />
<line x1="498.4" y1="496" x2="498.4" y2="507" stroke="#333" stroke-width="0.8" />
<polygon points="498.40,515.50 495.65,505.50 501.15,505.50" fill="#000"/>
<line x1="522.4" y1="526.6" x2="565" y2="526.6" stroke="#000" stroke-width="0.8" stroke-dasharray="3.5,2"/>
<text x="489.9" y="533" font-size="15.5" text-anchor="middle" textLength="40.4" lengthAdjust="spacingAndGlyphs" >Ø100</text>
<line x1="492.5" y1="538.9" x2="548" y2="538.9" stroke="#444" stroke-width="0.9" />
<line x1="498.4" y1="547" x2="498.4" y2="557.4" stroke="#333" stroke-width="0.8" />
<polygon points="498.40,539.40 495.65,549.40 501.15,549.40" fill="#000"/>
<line x1="436.6" y1="526.7" x2="462.8" y2="526.7" stroke="#444" stroke-width="0.9" />
<line x1="443.6" y1="506" x2="443.6" y2="518" stroke="#333" stroke-width="0.8" />
<polygon points="443.60,526.20 440.85,516.20 446.35,516.20" fill="#000"/>
<text x="443.4" y="556.3" font-size="15.5" text-anchor="middle" textLength="27.1" lengthAdjust="spacingAndGlyphs" >210</text>
<line x1="436.6" y1="574.2" x2="543.8" y2="574.2" stroke="#444" stroke-width="0.9" />
<line x1="443.6" y1="582" x2="443.6" y2="593.4" stroke="#333" stroke-width="0.8" />
<polygon points="443.60,574.70 440.85,584.70 446.35,584.70" fill="#000"/>
<line x1="661" y1="486" x2="735" y2="486" stroke="#444" stroke-width="0.9" />
<line x1="731" y1="494" x2="731" y2="524" stroke="#333" stroke-width="0.8" />
<line x1="731" y1="540" x2="731" y2="565" stroke="#333" stroke-width="0.8" />
<polygon points="731.00,486.50 728.25,496.50 733.75,496.50" fill="#000"/>
<text x="730.7" y="536.9" font-size="15.5" text-anchor="middle" textLength="26.9" lengthAdjust="spacingAndGlyphs" >400</text>
<line x1="638" y1="550.5" x2="656.4" y2="550.5" stroke="#444" stroke-width="0.9" />
<line x1="671.8" y1="550.5" x2="704.5" y2="550.5" stroke="#444" stroke-width="0.9" />
<line x1="598.2" y1="560.1" x2="671.4" y2="560.1" stroke="#444" stroke-width="0.9" />
<line x1="663.6" y1="540" x2="663.6" y2="552" stroke="#333" stroke-width="0.8" />
<polygon points="663.60,560.10 660.85,550.10 666.35,550.10" fill="#000"/>
<line x1="697.6" y1="532" x2="697.6" y2="542" stroke="#333" stroke-width="0.8" />
<polygon points="697.60,550.50 694.85,540.50 700.35,540.50" fill="#000"/>
<text x="697.3" y="567.9" font-size="15.5" text-anchor="middle" textLength="25.5" lengthAdjust="spacingAndGlyphs" >100</text>
<rect x="727.5" y="563.5" width="7" height="2" fill="#000"/>
<rect x="600" y="565.3" width="170" height="75" fill="#fff"/>
<g fill="#ff5500" stroke="#ff5500" stroke-width="0.9" stroke-linejoin="round">
<path d="M606.9,593.9 H626.6 L624.9,596.6 H622.9 L614.4,606.3 H606.9 L616,596.6 H605.2 Z"/>
<path d="M628.2,593.9 H644.2 L642.5,596.6 H634.3 L632.9,599.1 H641.2 L639.8,601.7 H631.5 L630.3,603.7 H640.6 L639,606.3 H621.8 Z"/>
<path d="M646.5,593.9 H663.9 L662.2,596.6 H651.3 L647.4,603.7 H661.2 L659.6,606.3 H641.2 Q637.8,606.3 639,604 L643,596.4 Q644.2,593.9 646.5,593.9 Z"/>
<path d="M693,593.9 H706.3 Q709.4,593.9 708.3,596.1 L703.3,604.1 Q702,606.3 699.3,606.3 H686.2 Q683.1,606.3 684.2,604.1 L689.3,596.1 Q690.5,593.9 693,593.9 Z M694.4,596.5 L690.2,602.9 H698.2 L702.4,596.5 Z" fill-rule="evenodd"/>
<path d="M705.4,602 H709.1 L706.7,606.3 H702.9 Z"/>
<path d="M717.5,593.9 H733 Q736.3,593.9 735.2,596.3 L734,598.7 Q733.4,599.9 732,600.2 Q733.6,600.6 732.9,602 L731.5,604.4 Q730.5,606.3 728,606.3 H709.8 Z M721.6,596 L720.3,598.1 H727.7 L729,596 Z M720.2,600.8 L718.6,603.4 H726 L727.6,600.8 Z" fill-rule="evenodd"/>
<path d="M739.1,593.9 H748 L748.6,598.2 L754.5,593.9 H759.6 L748.8,601.3 L746,606.3 H736.4 L739.3,601 Z"/>
</g>
<path d="M656.1,618.9 L665,593.9 H672.4 L679.4,602.8 L689.9,583.3 L682,606.3 H674.5 L666.8,597.5 Z" fill="#000" stroke="#000" stroke-width="0.5" stroke-linejoin="round"/>
</svg>
</body></html>
